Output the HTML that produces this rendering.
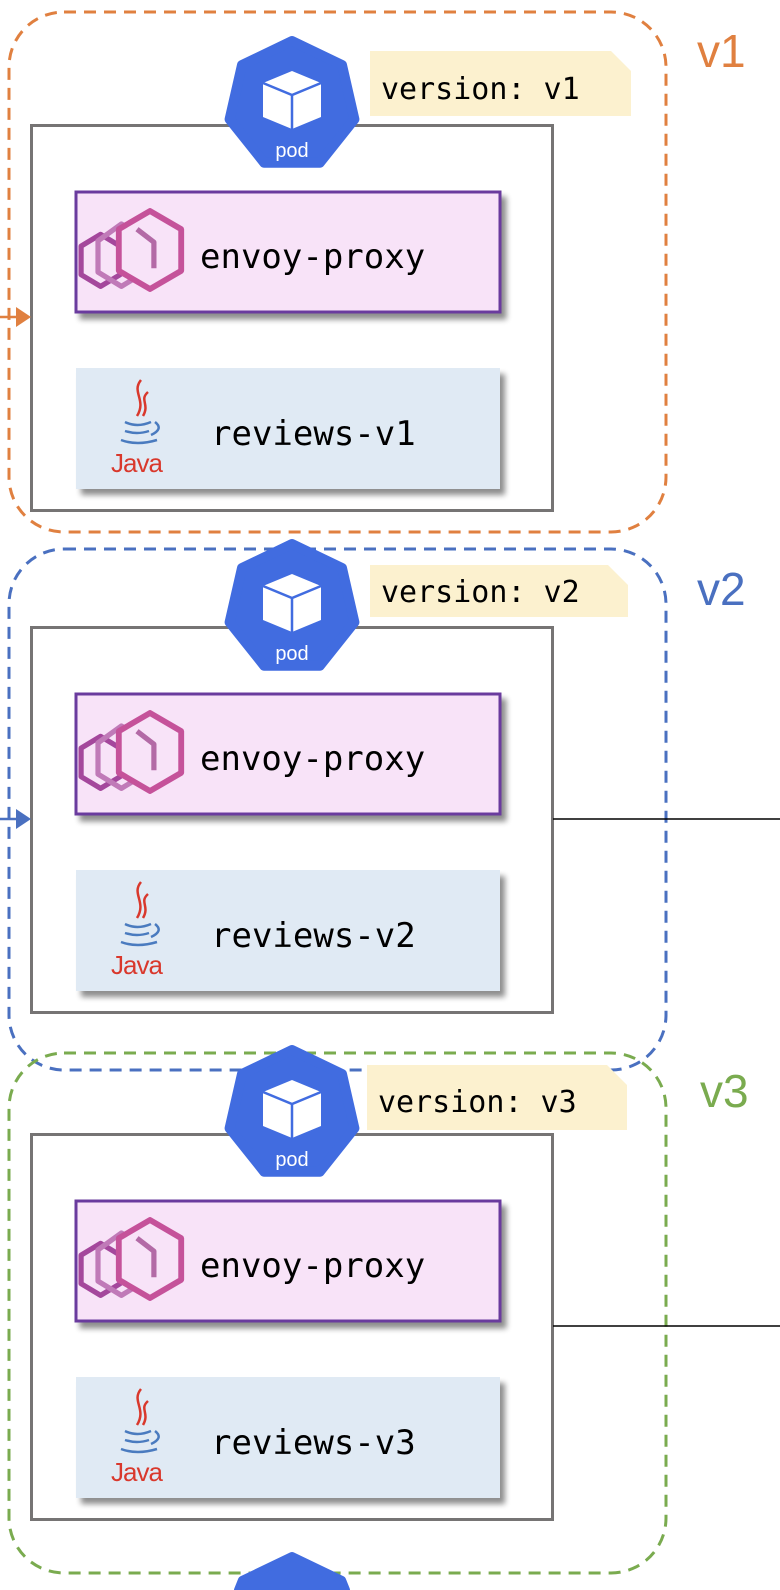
<!DOCTYPE html>
<html><head><meta charset="utf-8"><style>
html,body{margin:0;padding:0;background:#fff;width:780px;height:1590px;overflow:hidden}
svg{display:block}
.mono{font-family:"DejaVu Sans Mono","Liberation Mono",monospace}
</style></head><body>
<svg width="780" height="1590" viewBox="0 0 780 1590" xmlns="http://www.w3.org/2000/svg" style="overflow:hidden">
<defs>
<clipPath id="page"><rect x="0" y="0" width="780" height="1590"/></clipPath>
<filter id="sh" x="-10%" y="-10%" width="130%" height="140%">
<feGaussianBlur in="SourceAlpha" stdDeviation="3"/><feOffset dx="5" dy="6"/>
<feComponentTransfer><feFuncA type="linear" slope="0.45"/></feComponentTransfer>
<feMerge><feMergeNode/><feMergeNode in="SourceGraphic"/></feMerge></filter>
<g id="pod">
<path d="M0,-64 L50,-40 L62.4,14.3 L27.8,57.7 L-27.8,57.7 L-62.4,14.3 L-50,-40 Z" fill="#416ce0" stroke="#416ce0" stroke-width="10" stroke-linejoin="round"/>
<path d="M0,-34 L29,-22 L29,12 L0,24 L-29,12 L-29,-22 Z" fill="#fff"/>
<path d="M-29,-22 L0,-10 L29,-22 M0,-10 L0,24" stroke="#416ce0" stroke-width="2.5" fill="none"/>
<text x="0" y="52" text-anchor="middle" font-family="Liberation Sans, sans-serif" font-size="20" fill="#fff">pod</text>
</g>
<g id="envoy" fill="none" stroke-linejoin="round" transform="scale(1.3)">
<path d="M0,-20 L15,-11 L15,11 L0,20 L-15,11 L-15,-11 Z" transform="translate(-38,8)" stroke="#a4479c" stroke-width="4"/>
<path d="M0,-24 L18,-13 L18,13 L0,24 L-18,13 L-18,-11 Z" transform="translate(-22,4)" stroke="#c07ab8" stroke-width="4"/>
<path d="M0,-30 L24,-16 L24,16 L0,30 L-24,16 L-24,-16 Z" stroke="#c5529a" stroke-width="4.5" fill="#f8e3f8"/>
<path d="M-10,-16 L3,-6 L3,14" stroke="#b36aa6" stroke-width="4"/>
</g>
<g id="java">
<path d="M4,0 C-6,12 10,20 0,36 M11,12 C2,20 13,24 6,36" stroke="#d9382c" stroke-width="2.5" fill="none"/>
<path d="M-12,42 Q0,48 14,42 M-12,51 Q0,55 12,51 M-16,60 Q0,66 20,60 M18,42 Q27,49 14,55" stroke="#4a7bbf" stroke-width="2.5" fill="none"/>
<text x="0" y="92" text-anchor="middle" font-family="Liberation Sans, sans-serif" font-size="26" fill="#d9382c" textLength="52">Java</text>
</g>
</defs>

<g clip-path="url(#page)">
<!-- group 1 -->
<rect x="9" y="12" width="657" height="520" rx="55" fill="none" stroke="#e08040" stroke-width="3" stroke-dasharray="12 8"/>
<g>
<rect x="31.5" y="125.5" width="521" height="385" fill="#fff" stroke="#767474" stroke-width="3"/>
<rect x="76" y="192" width="424" height="120" fill="#f8e3f8" stroke="#6a3a9e" stroke-width="3" filter="url(#sh)"/>
<use href="#envoy" x="150" y="250"/>
<text class="mono" x="200" y="268" font-size="34" fill="#000">envoy-proxy</text>
<rect x="76" y="368" width="424" height="121" fill="#e0eaf4" filter="url(#sh)"/>
<use href="#java" x="137" y="380"/>
<text class="mono" x="211" y="445" font-size="34" fill="#000">reviews-v1</text>
<line x1="0" y1="317" x2="20" y2="317" stroke="#e08040" stroke-width="2.5"/>
<path d="M16,307 L31,317 L16,327 Z" fill="#e08040"/>
</g>
<use href="#pod" x="292" y="105"/>
<path d="M370,51 L611,51 L631,71 L631,116 L370,116 Z" fill="#fcf1cf"/>
<text class="mono" x="381" y="99" font-size="30" fill="#000">version: v1</text>
<text x="697" y="67" font-family="Liberation Sans, sans-serif" font-size="46" fill="#e08040">v1</text>

<!-- group 2 -->
<rect x="9" y="549" width="657" height="521" rx="55" fill="none" stroke="#4a70c0" stroke-width="3" stroke-dasharray="12 8"/>
<g transform="translate(0,502)">
<rect x="31.5" y="125.5" width="521" height="385" fill="#fff" stroke="#767474" stroke-width="3"/>
<rect x="76" y="192" width="424" height="120" fill="#f8e3f8" stroke="#6a3a9e" stroke-width="3" filter="url(#sh)"/>
<use href="#envoy" x="150" y="250"/>
<text class="mono" x="200" y="268" font-size="34" fill="#000">envoy-proxy</text>
<rect x="76" y="368" width="424" height="121" fill="#e0eaf4" filter="url(#sh)"/>
<use href="#java" x="137" y="380"/>
<text class="mono" x="211" y="445" font-size="34" fill="#000">reviews-v2</text>
<line x1="0" y1="317" x2="20" y2="317" stroke="#4a70c0" stroke-width="2.5"/>
<path d="M16,307 L31,317 L16,327 Z" fill="#4a70c0"/>
<line x1="553" y1="317" x2="780" y2="317" stroke="#000" stroke-width="1.5"/>
</g>
<use href="#pod" x="292" y="608"/>
<path d="M370,565 L608,565 L628,585 L628,617 L370,617 Z" fill="#fcf1cf"/>
<text class="mono" x="381" y="602" font-size="30" fill="#000">version: v2</text>
<text x="697" y="605" font-family="Liberation Sans, sans-serif" font-size="46" fill="#4a70c0">v2</text>

<!-- group 3 -->
<rect x="9" y="1053" width="657" height="520" rx="55" fill="none" stroke="#7aab4f" stroke-width="3" stroke-dasharray="12 8"/>
<g transform="translate(0,1009)">
<rect x="31.5" y="125.5" width="521" height="385" fill="#fff" stroke="#767474" stroke-width="3"/>
<rect x="76" y="192" width="424" height="120" fill="#f8e3f8" stroke="#6a3a9e" stroke-width="3" filter="url(#sh)"/>
<use href="#envoy" x="150" y="250"/>
<text class="mono" x="200" y="268" font-size="34" fill="#000">envoy-proxy</text>
<rect x="76" y="368" width="424" height="121" fill="#e0eaf4" filter="url(#sh)"/>
<use href="#java" x="137" y="380"/>
<text class="mono" x="211" y="445" font-size="34" fill="#000">reviews-v3</text>
<line x1="553" y1="317" x2="780" y2="317" stroke="#000" stroke-width="1.5"/>
</g>
<use href="#pod" x="292" y="1114"/>
<path d="M367,1065 L607,1065 L627,1085 L627,1130 L367,1130 Z" fill="#fcf1cf"/>
<text class="mono" x="378" y="1112" font-size="30" fill="#000">version: v3</text>
<text x="700" y="1107" font-family="Liberation Sans, sans-serif" font-size="46" fill="#7aab4f">v3</text>

<!-- partial pod at bottom -->
<path d="M292,1556 L242,1580 L238,1590 L346,1590 L342,1580 Z" fill="#416ce0" stroke="#416ce0" stroke-width="8" stroke-linejoin="round"/>
</g>
</svg>
</body></html>
